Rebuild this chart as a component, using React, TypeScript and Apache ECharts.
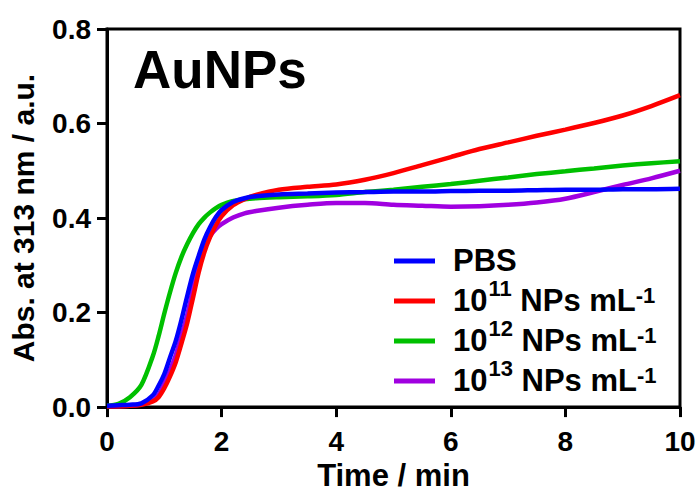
import React, { useEffect, useRef } from "react";
import * as echarts from "echarts";

const times = [0, 0.2, 0.4, 0.6, 0.8, 0.9, 1.0, 1.1, 1.2, 1.3, 1.4, 1.5, 1.6, 1.7, 1.8, 1.9, 2.0, 2.2, 2.4, 2.6, 3.0, 3.5, 4, 4.5, 5, 5.5, 6, 6.5, 7, 7.5, 8, 8.5, 9, 9.5, 10];

const pbs = [0.003, 0.004, 0.005, 0.008, 0.025, 0.045, 0.07, 0.105, 0.14, 0.185, 0.235, 0.282, 0.32, 0.355, 0.381, 0.402, 0.417, 0.434, 0.442, 0.446, 0.45, 0.452, 0.454, 0.455, 0.456, 0.456, 0.457, 0.458, 0.458, 0.459, 0.46, 0.46, 0.461, 0.461, 0.462];
const np11 = [0.002, 0.002, 0.003, 0.005, 0.012, 0.021, 0.04, 0.065, 0.095, 0.135, 0.178, 0.231, 0.285, 0.328, 0.36, 0.385, 0.404, 0.427, 0.44, 0.449, 0.46, 0.466, 0.471, 0.481, 0.495, 0.512, 0.529, 0.546, 0.56, 0.574, 0.587, 0.601, 0.617, 0.637, 0.66];
const np12 = [0.003, 0.007, 0.021, 0.047, 0.108, 0.15, 0.198, 0.243, 0.284, 0.318, 0.345, 0.368, 0.387, 0.401, 0.412, 0.421, 0.428, 0.436, 0.44, 0.442, 0.444, 0.446, 0.449, 0.455, 0.46, 0.466, 0.472, 0.479, 0.486, 0.493, 0.499, 0.505, 0.511, 0.516, 0.52];
const np13 = [0.002, 0.002, 0.003, 0.006, 0.014, 0.026, 0.05, 0.078, 0.11, 0.152, 0.195, 0.25, 0.3, 0.338, 0.362, 0.377, 0.387, 0.401, 0.41, 0.415, 0.422, 0.428, 0.432, 0.432, 0.428, 0.426, 0.424, 0.425, 0.428, 0.433, 0.441, 0.455, 0.47, 0.484, 0.5];

const seriesNames = ["PBS", "1e11", "1e12", "1e13"];
const legendLabels = ["{m|PBS}", "{m|10}{s|11}{m| NPs mL}{t|-1}", "{m|10}{s|12}{m| NPs mL}{t|-1}", "{m|10}{s|13}{m| NPs mL}{t|-1}"];
const colors = ["#0000FF", "#FF0000", "#00C000", "#A000E0"];
const seriesValues = [pbs, np11, np12, np13];
const drawOrder = [3, 2, 1, 0];

const xTicks = [0, 2, 4, 6, 8, 10];
const yTicks = [0, 0.2, 0.4, 0.6, 0.8];

const FONT = "'Liberation Sans', Arial, Helvetica, sans-serif";

export default function App() {
  const ref = useRef<HTMLDivElement>(null);
  useEffect(() => {
    if (!ref.current) return;
    const chart = echarts.init(ref.current, null, { renderer: "svg" });
    const series = drawOrder.map((i) => ({
      name: seriesNames[i],
      type: "line",
      smooth: 0.3,
      showSymbol: false,
      symbol: "none",
      lineStyle: { color: colors[i], width: 4.5 },
      itemStyle: { color: colors[i] },
      data: times.map((t, k) => [t, seriesValues[i][k]]),
    }));
    chart.setOption({
      animation: false,
      backgroundColor: "#ffffff",
      title: {
        text: "AuNPs",
        left: 128,
        top: 38,
        textStyle: { fontFamily: FONT, fontWeight: "bold", fontSize: 53, color: "#000" },
      },
      grid: {
        left: 107,
        right: 19,
        top: 29,
        bottom: 86,
        show: true,
        borderColor: "#000",
        borderWidth: 3,
      },
      legend: {
        orient: "vertical",
        left: 389,
        top: 240,
        itemWidth: 41,
        itemHeight: 5,
        itemGap: 1,
        icon: "rect",
        data: seriesNames.map((n, i) => ({ name: n, itemStyle: { color: colors[i] } })),
        formatter: (name: string) => legendLabels[seriesNames.indexOf(name)],
        textStyle: {
          fontFamily: FONT,
          fontWeight: "bold",
          color: "#000",
          padding: [0, 0, 0, 13],
          rich: {
            m: { fontFamily: FONT, fontWeight: "bold", fontSize: 31, lineHeight: 30, verticalAlign: "bottom", color: "#000" },
            s: { fontFamily: FONT, fontWeight: "bold", fontSize: 22, lineHeight: 21, padding: [0, 0, 17, 1], verticalAlign: "bottom", color: "#000" },
            t: { fontFamily: FONT, fontWeight: "bold", fontSize: 22, lineHeight: 21, padding: [0, 0, 10, 0], verticalAlign: "bottom", color: "#000" },
          },
        },
      },
      xAxis: {
        type: "value",
        min: 0,
        max: 10,
        interval: 2,
        name: "Time / min",
        nameLocation: "middle",
        nameGap: 45,
        nameTextStyle: { fontFamily: FONT, fontWeight: "bold", fontSize: 31, color: "#000", verticalAlign: "top" },
        axisLine: { show: true, lineStyle: { color: "#000", width: 3 } },
        axisTick: { show: true, length: 10, lineStyle: { color: "#000", width: 3 } },
        axisLabel: {
          fontFamily: FONT,
          fontWeight: "bold",
          fontSize: 28,
          color: "#000",
          margin: 20,
          formatter: (v: number) => (xTicks.includes(v) ? String(v) : ""),
        },
        splitLine: { show: false },
      },
      yAxis: {
        type: "value",
        min: 0,
        max: 0.8,
        interval: 0.2,
        name: "Abs. at 313 nm / a.u.",
        nameLocation: "middle",
        nameGap: 69,
        nameTextStyle: { fontFamily: FONT, fontWeight: "bold", fontSize: 30, color: "#000" },
        axisLine: { show: true, lineStyle: { color: "#000", width: 3 } },
        axisTick: { show: true, length: 10, lineStyle: { color: "#000", width: 3 } },
        axisLabel: {
          fontFamily: FONT,
          fontWeight: "bold",
          fontSize: 28,
          color: "#000",
          margin: 16,
          formatter: (v: number) => {
            const hit = yTicks.find((y) => Math.abs(y - v) < 1e-9);
            return hit === undefined ? "" : hit.toFixed(1);
          },
        },
        splitLine: { show: false },
      },
      series,
    });
    return () => chart.dispose();
  }, []);
  return <div ref={ref} style={{ width: 699, height: 496, position: "absolute", left: 0, top: 0 }} />;
}
